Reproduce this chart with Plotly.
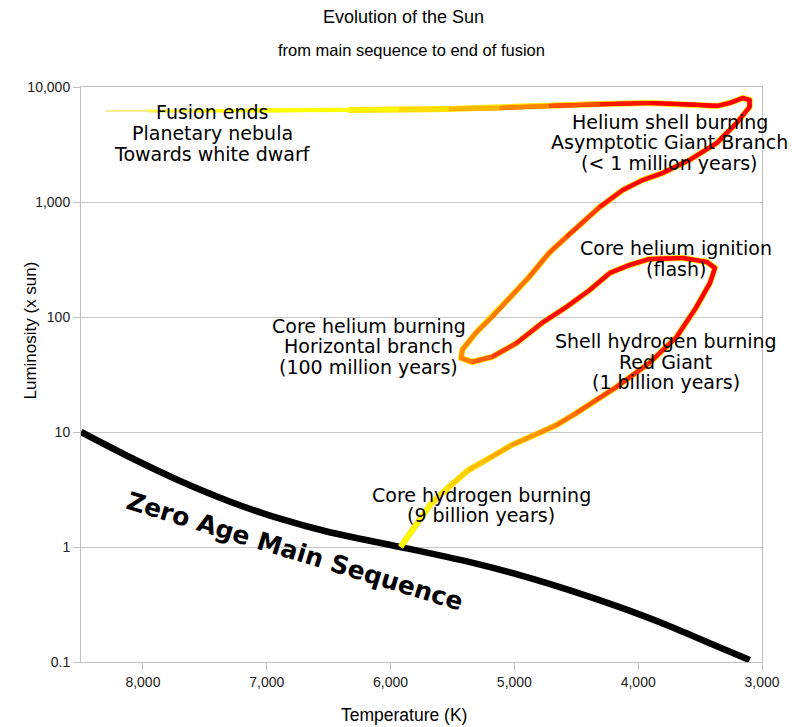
import plotly.graph_objects as go

# Zero age main sequence: effective temperature (K) and luminosity (L_sun)
zams_temp = [8500, 8100, 7700, 7300, 6900, 6500, 5920, 5350, 4950, 4550, 4150, 3750, 3350, 3100]
zams_lum = [10, 6.0, 3.75, 2.49, 1.77, 1.35, 1.0, 0.734, 0.567, 0.42, 0.30, 0.206, 0.135, 0.104]

# Evolutionary track of the Sun
track_temp = [5920, 5770, 5670, 5530, 5370, 5200, 5020, 4800, 4660, 4500,
              4340, 4175, 3910, 3690, 3530, 3420, 3380, 3445, 3640, 3910,
              4070, 4230, 4390, 4580, 4775, 4985, 5180, 5340, 5430, 5420,
              5310, 5180, 5040, 4880, 4720, 4580, 4310, 4125, 3965, 3800,
              3585, 3365, 3205, 3100, 3100, 3155, 3260, 3365, 3480, 3640,
              3910, 4310, 4720, 5120, 5530, 5934, 6339, 6744, 7149, 7554,
              7959, 8300]
track_lum = [1.0, 1.72, 2.41, 3.32, 4.67, 5.94, 7.71, 9.8, 11.5, 14.6,
             19.0, 24.6, 39.8, 67, 122, 198, 267, 301, 326, 319,
             283, 241, 172, 122, 89, 59, 45, 40.6, 44, 52,
             73, 100, 146, 223, 360, 497, 905, 1270, 1550, 1790,
             2320, 3260, 4860, 6700, 7710, 8020, 7260, 6840, 6970, 7110,
             7260, 7110, 6840, 6560, 6440, 6370, 6310, 6310, 6250, 6180,
             6180, 6180]

# Colour stops along the track (point index -> colour)
color_stops = [(0, "#ffff00"), (2, "#ffee00"), (4, "#ffc800"), (6, "#ffa000"),
               (8, "#ff8000"), (10, "#ff5000"), (12, "#ff2000"), (14, "#ff0000"),
               (24, "#ff0a00"), (26, "#ff4a00"), (28, "#ff9000"), (30, "#ff8000"),
               (33, "#ff7000"), (35, "#ff5000"), (37, "#ff0000"), (50, "#ff0000"),
               (51, "#ff3000"), (52, "#ff7000"), (53, "#ffa000"), (54, "#ffd000"),
               (55, "#ffef00"), (56, "#ffff00"), (58, "#ffff00"), (59, "#fffa30"),
               (60, "#f8f070"), (61, "#f0eab0")]

# stroke width of the fading tail, by starting point index
tail_width = {57: 4.0, 58: 3.6, 59: 3.0, 60: 2.0}


def hex_rgb(h):
    return tuple(int(h[i:i + 2], 16) for i in (1, 3, 5))


def color_at(i):
    for (a, ca), (b, cb) in zip(color_stops, color_stops[1:]):
        if a <= i <= b:
            t = (i - a) / (b - a) if b > a else 0
            r0, g0, b0 = hex_rgb(ca)
            r1, g1, b1 = hex_rgb(cb)
            return "rgb(%d,%d,%d)" % (round(r0 + (r1 - r0) * t),
                                      round(g0 + (g1 - g0) * t),
                                      round(b0 + (b1 - b0) * t))
    return color_stops[-1][1]


fig = go.Figure()

# ZAMS curve
fig.add_trace(go.Scatter(x=zams_temp, y=zams_lum, mode="lines",
                         line=dict(color="black", width=6.5, shape="spline", smoothing=0.8),
                         hoverinfo="skip", showlegend=False))

# thin yellow rim under the coloured track
n = len(track_temp)
fig.add_trace(go.Scatter(x=track_temp[:57], y=track_lum[:57], mode="lines",
                         line=dict(color="#ffe000", width=6),
                         hoverinfo="skip", showlegend=False))

# coloured track, one short piece per step
for i in range(n - 1):
    if i < 57:
        xs, ys, width = track_temp[i:i + 3], track_lum[i:i + 3], 4.2
    else:
        xs, ys, width = track_temp[i:i + 2], track_lum[i:i + 2], tail_width[i]
    fig.add_trace(go.Scatter(x=xs, y=ys, mode="lines",
                             line=dict(color=color_at(i + 0.5), width=width),
                             hoverinfo="skip", showlegend=False))

label_font = dict(family="DejaVu Sans", size=19, color="black")


def label(lines, temp, log_lums):
    for text, ly in zip(lines, log_lums):
        fig.add_annotation(x=temp, y=ly, xref="x", yref="y", text=text,
                           showarrow=False, font=label_font,
                           xanchor="center", yanchor="middle")


label(["Fusion ends", "Planetary nebula", "Towards white dwarf"], 7441, [3.783, 3.6, 3.417])
label(["Helium shell burning", "Asymptotic Giant Branch", "(< 1 million years)"], 3746, [3.696, 3.522, 3.339])
label(["Core helium ignition", "(flash)"], 3697, [2.6, 2.417])
label(["Shell hydrogen burning", "Red Giant", "(1 billion years)"], 3778, [1.791, 1.609, 1.435])
label(["Core helium burning", "Horizontal branch", "(100 million years)"], 6177, [1.922, 1.748, 1.565])
label(["Core hydrogen burning", "(9 billion years)"], 5269, [0.452, 0.278])

fig.add_annotation(x=6768, y=-0.035, xref="x", yref="y", text="<b>Zero Age Main Sequence</b>",
                   showarrow=False, textangle=17,
                   font=dict(family="DejaVu Sans", size=25, color="black"))

# titles
fig.add_annotation(x=0.474, y=1.0 + 70 / 575, xref="paper", yref="paper",
                   text="Evolution of the Sun", showarrow=False,
                   font=dict(family="Liberation Sans", size=18, color="black"))
fig.add_annotation(x=0.486, y=1.0 + 37 / 575, xref="paper", yref="paper",
                   text="from main sequence to end of fusion", showarrow=False,
                   font=dict(family="Liberation Sans", size=16.5, color="black"))
fig.add_annotation(x=0.474, y=-53 / 575, xref="paper", yref="paper",
                   text="Temperature (K)", showarrow=False,
                   font=dict(family="Liberation Sans", size=17.5, color="black"))
fig.add_annotation(x=-63 / 681, y=(662 - 331) / 575, xref="paper", yref="paper",
                   text="Luminosity (x sun)", showarrow=False, textangle=-90,
                   font=dict(family="Liberation Sans", size=17, color="black"))

tick_vals_y = [0.1, 1, 10, 100, 1000, 10000]
tick_text_y = ["0.1", "1", "10", "100", "1,000", "10,000"]
tick_vals_x = [8000, 7000, 6000, 5000, 4000, 3000]
tick_text_x = ["8,000", "7,000", "6,000", "5,000", "4,000", "3,000"]

fig.update_layout(
    width=792, height=727,
    margin=dict(l=81, r=30, t=87, b=65),
    paper_bgcolor="white", plot_bgcolor="white",
    xaxis=dict(range=[8500, 3000], tickvals=tick_vals_x, ticktext=tick_text_x,
               showgrid=False, zeroline=False, showline=True, linecolor="#c0c0c0",
               linewidth=1, mirror=True, ticks="outside", ticklen=7, tickcolor="#c0c0c0",
               tickfont=dict(family="Liberation Sans", size=14, color="#222")),
    yaxis=dict(type="log", range=[-1, 4], tickvals=tick_vals_y, ticktext=tick_text_y,
               showgrid=True, gridcolor="#c8c8c8", gridwidth=1, zeroline=False,
               showline=True, linecolor="#c0c0c0", linewidth=1, mirror=True,
               ticks="outside", ticklen=7, tickcolor="#c0c0c0",
               tickfont=dict(family="Liberation Sans", size=14, color="#222")),
    showlegend=False,
)
fig.update_annotations(selector=dict(yref="paper"), yanchor="middle")

fig.write_html("out.html")
